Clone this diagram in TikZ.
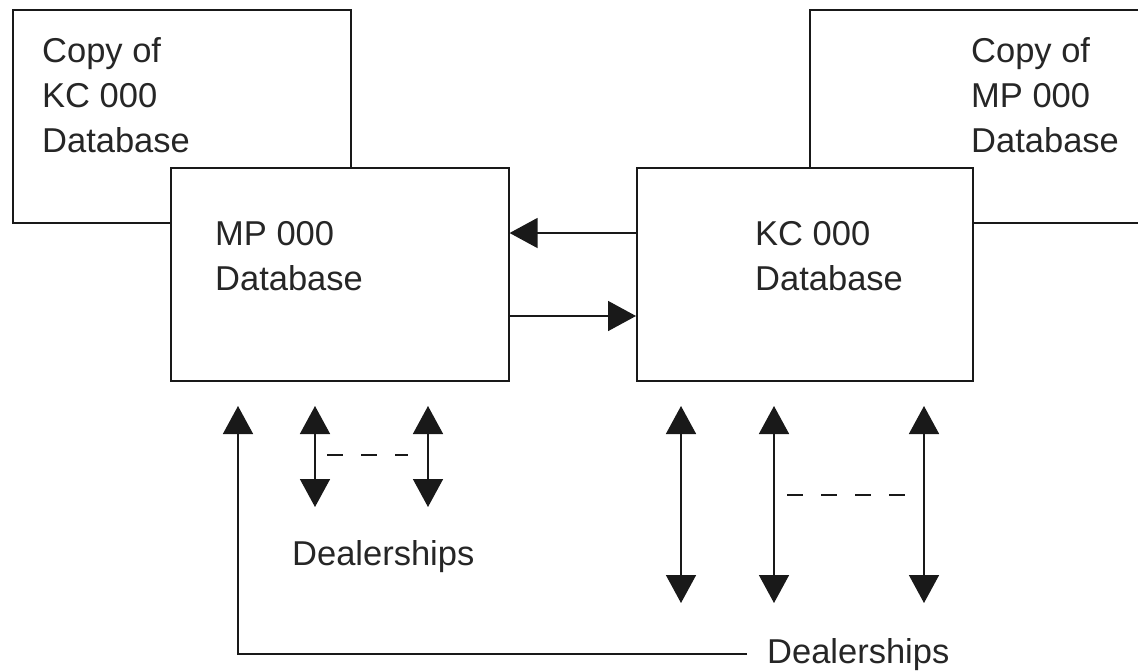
\documentclass[tikz,border=0pt]{standalone}
\usepackage{fontspec}
\setmainfont{Liberation Sans}
\usetikzlibrary{arrows.meta}
\tikzset{
  box/.style={draw=black!90, line width=1.6pt, fill=white, inner sep=0pt, anchor=north west},
  lbl/.style={inner sep=0pt, anchor=base west, align=left, font=\fontsize{34.5}{45}\selectfont, text=black!85},
  arr/.style={line width=1.6pt, draw=black!90, -{Triangle[length=28pt,width=30pt]}},
  darr/.style={line width=1.6pt, draw=black!90, {Triangle[length=28pt,width=30pt]}-{Triangle[length=28pt,width=30pt]}},
  dsh/.style={line width=1.4pt, draw=black!90, dash pattern=on 16pt off 18pt}
}
\begin{document}
\begin{tikzpicture}[x=1pt,y=-1pt]
\useasboundingbox (0,0) rectangle (1138,670);
\clip (0,0) rectangle (1138,670);
\fill[white] (0,0) rectangle (1138,670);
% copies (behind)
\node[box, minimum width=338pt, minimum height=213pt] (copykc) at (12,9) {};
\node[box, minimum width=400pt, minimum height=213pt] (copymp) at (809,9) {};
\node[lbl] (tcopykc) at (42,152) {Copy of\\KC 000\\Database};
\node[lbl] (tcopymp) at (971,152) {Copy of\\MP 000\\Database};
% main databases
\node[box, minimum width=338pt, minimum height=213pt] (mp) at (170,167) {};
\node[box, minimum width=336pt, minimum height=213pt] (kc) at (636,167) {};
\node[lbl] (tmp) at (215,290) {MP 000\\Database};
\node[lbl] (tkc) at (755,290) {KC 000\\Database};
% replication arrows
\draw[arr] (kc.west |- 0,233) -- (mp.east |- 0,233);
\draw[arr] (mp.east |- 0,316) -- (kc.west |- 0,316);
% left dealerships
\coordinate (la1) at (315,406); \coordinate (lb1) at (315,507);
\coordinate (la2) at (428,406); \coordinate (lb2) at (428,507);
\draw[darr] (la1) -- (lb1);
\draw[darr] (la2) -- (lb2);
\coordinate (ld1) at (327,455); \coordinate (ld2) at (408,455);
\draw[dsh] (ld1) -- (ld2);
\node[lbl] (dl1) at (292,565) {Dealerships};
% right dealerships
\coordinate (ra1) at (681,406); \coordinate (rb1) at (681,603);
\coordinate (ra2) at (774,406); \coordinate (rb2) at (774,603);
\coordinate (ra3) at (924,406); \coordinate (rb3) at (924,603);
\draw[darr] (ra1) -- (rb1);
\draw[darr] (ra2) -- (rb2);
\draw[darr] (ra3) -- (rb3);
\coordinate (rd1) at (787,495); \coordinate (rd2) at (910,495);
\draw[dsh] (rd1) -- (rd2);
\node[lbl] (dl2) at (767,663) {Dealerships};
% long connector
\coordinate (mpin) at (238,406);
\draw[arr] ([xshift=-20pt]dl2.west) -| (mpin);
\end{tikzpicture}
\end{document}
